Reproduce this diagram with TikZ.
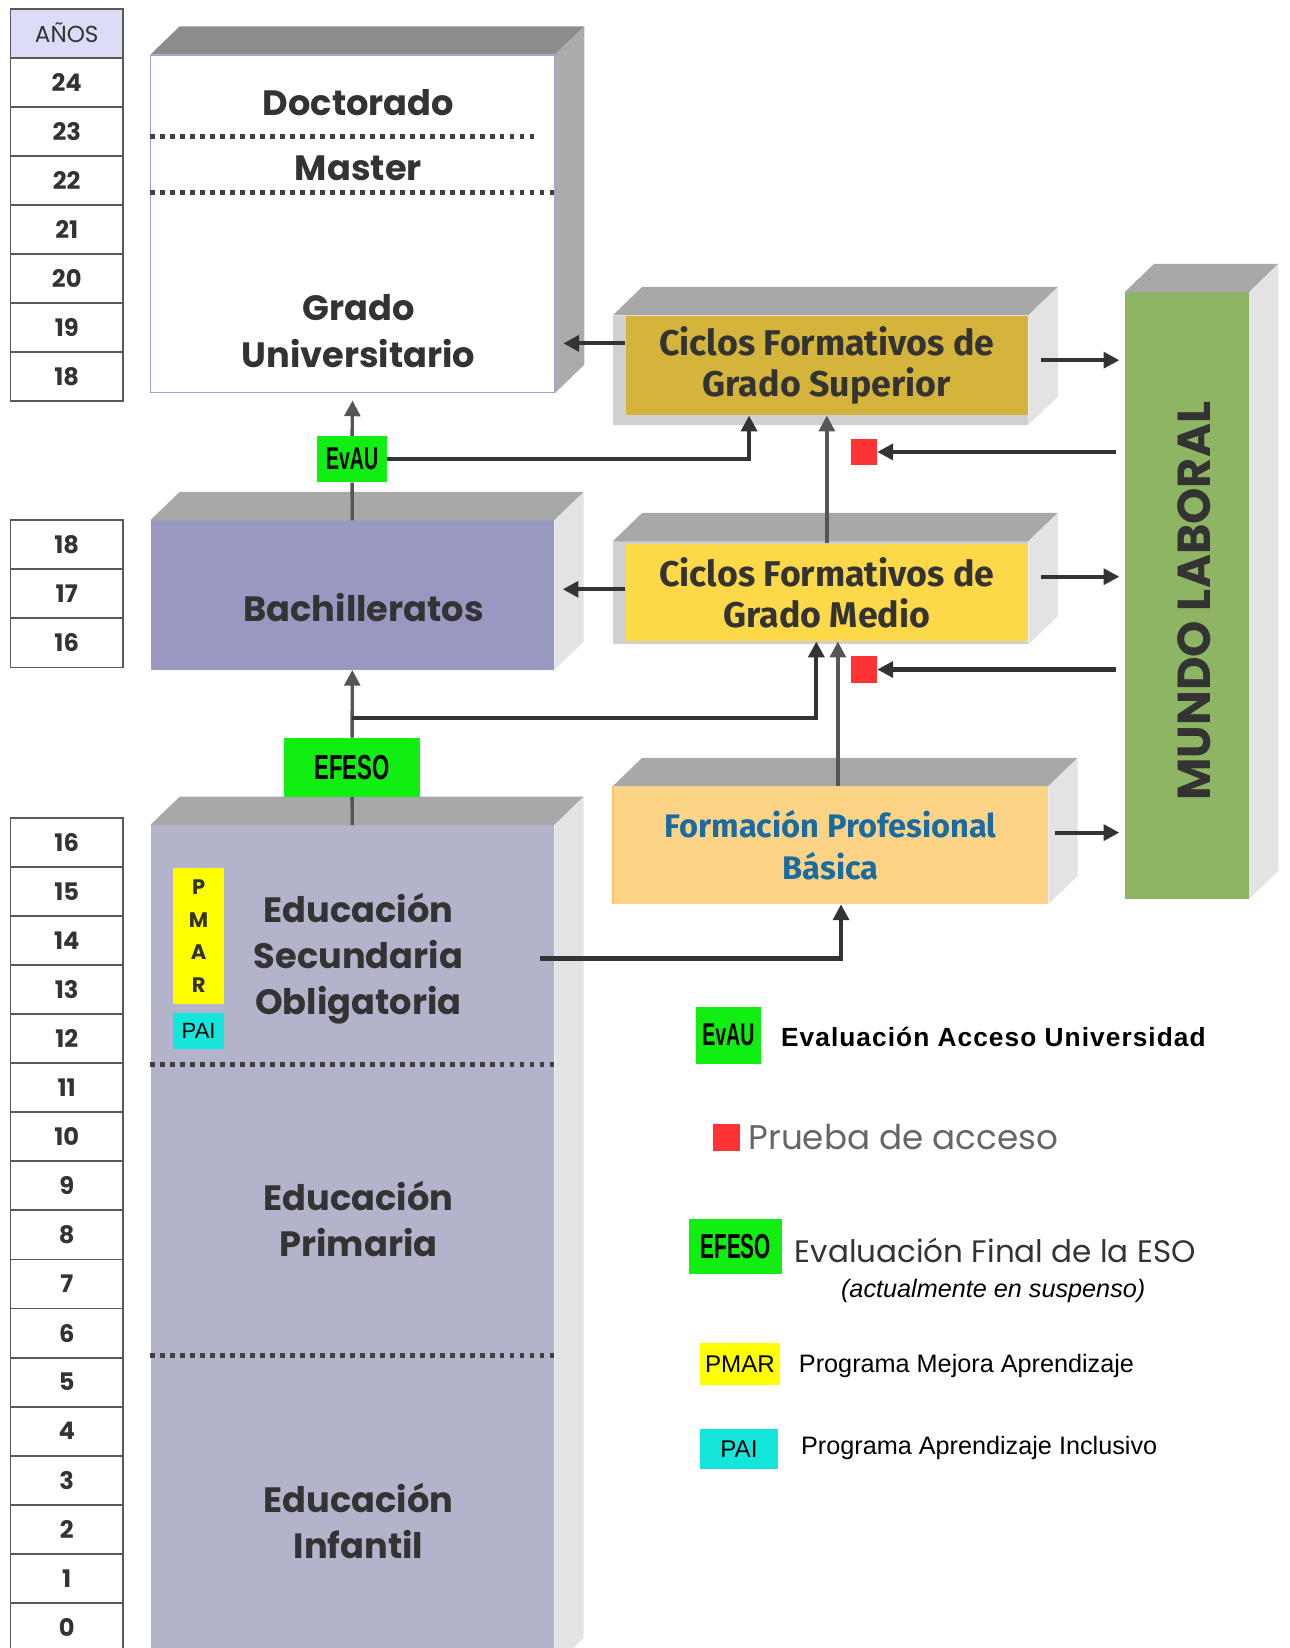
\documentclass[tikz,border=0pt]{standalone}
\usepackage{graphicx}
\usepackage{fontspec}
\setmainfont{Poppins}
\newfontfamily\cycfont{Fira Sans}
\newfontfamily\arifont{Liberation Sans}
\usetikzlibrary{positioning,calc,arrows.meta}

\definecolor{txtgray}{HTML}{333333}
\definecolor{uniedge}{HTML}{A0A0E0}
\definecolor{unitop}{HTML}{8C8C8C}
\definecolor{uniside}{HTML}{ABABAB}
\definecolor{facetop}{HTML}{A8A8A8}
\definecolor{faceside}{HTML}{E3E3E3}
\definecolor{frameg}{HTML}{D0D0D0}
\definecolor{bachfill}{HTML}{9898C0}
\definecolor{esofill}{HTML}{B3B3CB}
\definecolor{supfill}{HTML}{D4B43A}
\definecolor{medfill}{HTML}{FDD94A}
\definecolor{fpfill}{HTML}{FDD386}
\definecolor{fpblue}{HTML}{1A6BA0}
\definecolor{mundofill}{HTML}{8DB563}
\definecolor{evalgreen}{HTML}{11EE11}
\definecolor{pruebared}{HTML}{FF3333}
\definecolor{pmaryellow}{HTML}{FFFF00}
\definecolor{paicyan}{HTML}{14E6DC}
\definecolor{anosfill}{HTML}{DCDCF6}
\definecolor{arrdark}{HTML}{333333}
\definecolor{arrgray}{HTML}{555555}

\begin{document}
\begin{tikzpicture}[x=1pt, y=-1pt,
  yearbox/.style={draw=black!65, line width=1.8pt, fill=white, minimum width=107pt, minimum height=46.7pt,
    inner sep=0pt, text=txtgray, font=\fontsize{23}{23}\selectfont\bfseries},
  front/.style={anchor=north west, inner sep=0pt, align=center, text=txtgray},
  boxlabel/.style={align=center, text=txtgray, font=\fontsize{33.5}{44}\selectfont\bfseries},
  cyclabel/.style={align=center, text=txtgray, font=\cycfont\fontsize{34}{39}\selectfont\bfseries},
  evalbox/.style={fill=evalgreen, inner sep=0pt, font=\arifont\bfseries\fontsize{33}{33}\selectfont},
  prueba/.style={fill=pruebared, minimum size=25pt, inner sep=0pt},
  legtxt/.style={anchor=west, inner sep=0pt, font=\arifont\fontsize{24}{24}\selectfont},
  arr/.style={draw=arrdark, line width=4pt, -{Triangle[length=15pt,width=15pt]}},
  arrg/.style={arr, draw=arrgray, line width=3.2pt},
  sep/.style={draw=black!75, line width=4.5pt, dash pattern=on 4.5pt off 5pt},
]
  \useasboundingbox (0,0) rectangle (1227,1568);
  \clip (0,0) rectangle (1227,1568);

  \node[yearbox, fill=anosfill, font=\fontsize{22}{22}\selectfont] (anos) at (63.5,31.5) {AÑOS};
  \foreach \a [count=\i from 0] in {24,23,...,18}
    \node[yearbox] (ua\a) at (63.5,{78.35+\i*46.7}) {\a};
  \foreach \a [count=\i from 0] in {18,17,16}
    \node[yearbox] (ba\a) at (63.5,{518.35+\i*46.7}) {\a};
  \foreach \a [count=\i from 0] in {16,15,...,0}
    \node[yearbox] (ea\a) at (63.5,{801.35+\i*46.7}) {\a};

  \node[front, draw=uniedge, line width=1pt, fill=white, minimum width=384pt, minimum height=321pt] (uni) at (143,52) {};
  \node[front, fill=bachfill, minimum width=384pt, minimum height=142pt] (bach) at (143,495) {};
  \node[front, fill=esofill, minimum width=384pt, minimum height=800pt] (eso) at (143,785) {};
  \node[front, fill=frameg, minimum width=395pt, minimum height=104pt] (supbox) at (583,300) {};
  \node[front, fill=supfill, minimum width=383pt, minimum height=95pt, cyclabel] (sup) at (595,300) {Ciclos Formativos de\\Grado Superior};
  \node[front, fill=frameg, minimum width=395pt, minimum height=98pt] (medbox) at (583,515) {};
  \node[front, fill=medfill, minimum width=383pt, minimum height=93pt, cyclabel] (med) at (595,517) {Ciclos Formativos de\\Grado Medio};
  \node[front, fill=fpfill, minimum width=414pt, minimum height=112pt, cyclabel, text=fpblue,
    font=\cycfont\fontsize{31}{40}\selectfont\bfseries] (fp) at (583,748) {Formación Profesional\\Básica};
  \node[front, fill=mundofill, minimum width=118pt, minimum height=577pt] (mundo) at (1070,278) {};
  \draw[fpfill!80!orange, line width=2pt] (fp.north west) -- (fp.south west);

  \foreach \n/\tc/\sc in {uni/unitop/uniside, bach/facetop/faceside, eso/facetop/faceside, supbox/facetop/faceside,
      medbox/facetop/faceside, fp/facetop/faceside, mundo/facetop/faceside} {
    \fill[\tc] (\n.north west) -- ++(28,-27) -- ([shift={(28,-27)}]\n.north east) -- (\n.north east) -- cycle;
    \fill[\sc] (\n.north east) -- ++(28,-27) -- ([shift={(28,-27)}]\n.south east) -- (\n.south east) -- cycle;
  }

  \node[boxlabel] (doct) at (341,98) {Doctorado};
  \node[boxlabel] (mast) at (341,160) {Master};
  \node[boxlabel] (grado) at (341,315) {Grado\\Universitario};
  \draw[sep] ([shift={(0,78)}]uni.north west) -- ++(370,0);
  \draw[sep] ([shift={(0,131)}]uni.north west) -- ([shift={(0,131)}]uni.north east);

  \node[boxlabel] (bachtxt) at (346,578) {Bachilleratos};
  \node[boxlabel] (esotxt) at (341,912) {Educación\\Secundaria\\Obligatoria};
  \node[boxlabel] (primtxt) at (341,1160) {Educación\\Primaria};
  \node[boxlabel] (inftxt) at (341,1447) {Educación\\Infantil};
  \draw[sep] ([shift={(0,228)}]eso.north west) -- ([shift={(0,228)}]eso.north east);
  \draw[sep] ([shift={(0,505)}]eso.north west) -- ([shift={(0,505)}]eso.north east);

  \node[fill=pmaryellow, minimum width=48pt, minimum height=129pt, inner sep=0pt, align=center,
    font=\fontsize{20}{31}\selectfont\bfseries, text=txtgray] (pmar) at (189,890.5) {P\\M\\A\\R};
  \node[fill=paicyan, minimum width=48pt, minimum height=34pt, inner sep=0pt,
    font=\arifont\fontsize{21}{21}\selectfont] (pai) at (189,981) {PAI};

  \node[rotate=90, text=txtgray, font=\fontsize{44}{44}\selectfont\bfseries] (mundotxt) at (1136,572) {MUNDO LABORAL};

  \node[evalbox, minimum width=130pt, minimum height=56pt] (efeso) at (335,730) {\scalebox{0.64}[1]{EFESO}};
  \node[evalbox, minimum width=66pt, minimum height=44pt, font=\arifont\bfseries\fontsize{30}{30}\selectfont] (evau) at (335,437) {\scalebox{0.62}[1]{EvAU}};
  \node[prueba] (ps1) at (822,430) {};
  \node[prueba] (ps2) at (822,637) {};

  \draw[arrg, -] (eso.north) -- (efeso.south);
  \draw[arrg] (efeso.north) -- (bach.south);
  \coordinate (split) at ([shift={(0,-19)}]efeso.north);
  \draw[arr] (split) -| ([shift={(-10,0)}]med.south);
  \draw[arrg, -] (bach.north) -- (evau.south);
  \draw[arrg, shorten >=7pt] (evau.north) -- (uni.south);
  \draw[arr] (evau.east) -| ([shift={(-74,0)}]sup.south);
  \draw[arrg] (med.north) -- (sup.south);
  \draw[arrg] ([shift={(7,0)}]fp.north) -- ([shift={(7,0)}]fp.north |- med.south);
  \coordinate (esoout) at ([shift={(-14,0)}]eso.east |- esotxt);
  \draw[arr] (esoout) -| ([shift={(10,0)}]fp.south);
  \draw[arr] ([shift={(0,-21)}]sup.west) -- ([shift={(8,-21)}]sup.west -| uni.east);
  \draw[arr] ([shift={(0,-3)}]med.west) -- ([shift={(8,-3)}]med.west -| bach.east);
  \draw[arr] ([shift={(12,-5)}]sup.east) -- ([shift={(-5,-5)}]sup.east -| mundo.west);
  \draw[arr] ([shift={(12,-15)}]med.east) -- ([shift={(-5,-15)}]med.east -| mundo.west);
  \draw[arr] ([shift={(6,-12)}]fp.east) -- ([shift={(-5,-12)}]fp.east -| mundo.west);
  \draw[arr] ([shift={(-8,0)}]mundo.west |- ps1) -- (ps1.east);
  \draw[arr] ([shift={(-8,0)}]mundo.west |- ps2) -- (ps2.east);

  \node[evalbox, minimum width=62pt, minimum height=54pt, font=\arifont\bfseries\fontsize{30}{30}\selectfont] (levau) at (693,985) {\scalebox{0.62}[1]{EvAU}};
  \node[legtxt, font=\arifont\bfseries\fontsize{25}{25}\selectfont\addfontfeature{LetterSpace=4}] (levautxt) at (743,987) {Evaluación Acceso Universidad};
  \node[prueba, minimum size=26pt] (lprueba) at (691,1082) {};
  \node[legtxt, text=black!60, font=\fontsize{32.5}{32.5}\selectfont] (lpruebatxt) at (712,1082) {Prueba de acceso};
  \node[evalbox, minimum width=88pt, minimum height=53pt] (lefeso) at (700,1186) {\scalebox{0.6}[1]{EFESO}};
  \node[legtxt, text=txtgray, font=\fontsize{29.5}{29.5}\selectfont] (lefesotxt) at (756,1190) {Evaluación Final de la ESO};
  \node[legtxt, anchor=center, font=\arifont\itshape\fontsize{24}{24}\selectfont] (lsusp) at (945,1228) {(actualmente en suspenso)};
  \node[fill=pmaryellow, minimum width=76pt, minimum height=40pt, inner sep=0pt, font=\arifont\fontsize{23}{23}\selectfont] (lpmar) at (704,1298) {PMAR};
  \node[legtxt] (lpmartxt) at (760,1300) {Programa Mejora Aprendizaje};
  \node[fill=paicyan, minimum width=74pt, minimum height=38pt, inner sep=0pt, font=\arifont\fontsize{23}{23}\selectfont] (lpai) at (703,1379) {PAI};
  \node[legtxt] (lpaitxt) at (762,1378) {Programa Aprendizaje Inclusivo};
\end{tikzpicture}
\end{document}
